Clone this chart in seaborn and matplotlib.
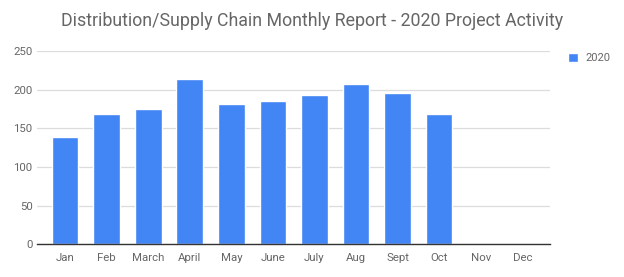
import numpy as np
import pandas as pd
import matplotlib
matplotlib.use("Agg")
import matplotlib.pyplot as plt
import seaborn as sns
from matplotlib.patches import Patch

months = ["Jan", "Feb", "March", "April", "May", "June", "July", "Aug", "Sept", "Oct", "Nov", "Dec"]
values = [139, 168, 175, 214, 182, 185, 193, 207, 196, 168, np.nan, np.nan]
series = "2020"
yticks = [0, 50, 100, 150, 200, 250]

sns.set_theme(style="white")
plt.rcParams['font.family'] = ['Roboto', 'DejaVu Sans']

df = pd.DataFrame({"month": months, "value": values})

fig = plt.figure(figsize=(6.24, 2.77), dpi=100)
ax = fig.add_axes([0.059, 0.118, 0.822, 0.698])
sns.barplot(data=df, x="month", y="value", order=months, color="#4285F4",
            width=0.64, saturation=1, ax=ax)
ax.set_ylim(0, 250)
ax.set_xlim(-0.68, 11.66)
ax.set_yticks(yticks)
ax.yaxis.grid(True, color="#dcdcdc", linewidth=0.9)
ax.set_axisbelow(True)
for s in ["top", "right", "left"]:
    ax.spines[s].set_visible(False)
ax.spines["bottom"].set_color("#333333")
ax.spines["bottom"].set_linewidth(1.0)
ax.set_xlabel("")
ax.set_ylabel("")
ax.tick_params(axis="both", length=0, labelsize=8.2, colors="#666666", pad=6)
ax.tick_params(axis="y", pad=3)

fig.suptitle("Distribution/Supply Chain Monthly Report - 2020 Project Activity",
             x=0.5, y=0.955, fontsize=12.8, color="#666666")

fig.legend(handles=[Patch(facecolor="#4285F4", label=series)],
           loc="upper left", bbox_to_anchor=(0.895, 0.845), frameon=False,
           fontsize=8, labelcolor="#666666", handlelength=0.9, handleheight=0.9,
           handletextpad=0.6)

fig.savefig("out.png", dpi=100)
